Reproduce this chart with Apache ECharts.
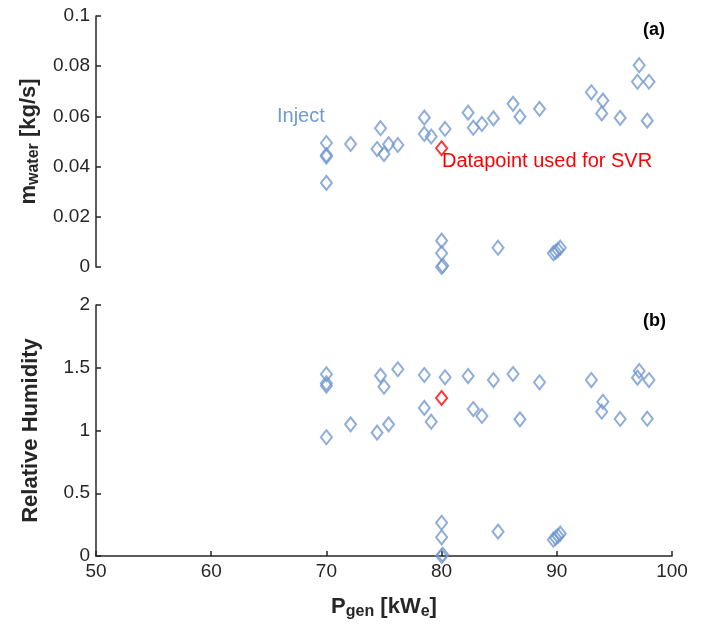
<!DOCTYPE html>
<html>
<head>
<meta charset="utf-8">
<script src="https://cdn.jsdelivr.net/npm/echarts@6/dist/echarts.min.js"></script>
<style>
  html, body { margin: 0; padding: 0; background: #fff; }
  #chart { width: 704px; height: 625px; }
</style>
</head>
<body>
<div id="chart"></div>
<script>
// generator power [kWe] for each test point
const pGen = [70, 70, 70, 70, 72.1, 74.7, 74.4, 75.0, 75.4, 76.2, 78.5, 78.5, 79.1, 80.3,
  82.3, 82.75, 83.5, 84.5, 86.2, 86.8, 88.5, 93.0, 94.0, 93.9, 95.5, 97.15, 97.0, 98.0, 97.85,
  80.0, 80.0, 80.0, 80.1, 84.9, 89.7, 89.9, 90.1, 90.3];
// injected water mass flow [kg/s]
const mWater = [0.0494, 0.0446, 0.044, 0.0335, 0.049, 0.0553, 0.047, 0.045, 0.0489, 0.0486, 0.0595, 0.053, 0.052, 0.055,
  0.0615, 0.0555, 0.057, 0.0592, 0.065, 0.0599, 0.063, 0.0696, 0.0663, 0.0612, 0.0594, 0.0804, 0.0738, 0.0738, 0.0583,
  0.0105, 0.0055, 0.0, 0.0005, 0.0077, 0.0055, 0.006, 0.0068, 0.0077];
// relative humidity
const relHum = [1.448, 1.376, 1.357, 0.946, 1.049, 1.437, 0.983, 1.349, 1.049, 1.488, 1.442, 1.18, 1.07, 1.424,
  1.434, 1.171, 1.116, 1.402, 1.45, 1.089, 1.384, 1.402, 1.229, 1.15, 1.092, 1.474, 1.421, 1.402, 1.094,
  0.265, 0.149, 0.0, 0.01, 0.194, 0.13, 0.145, 0.16, 0.178];
// datapoint used for SVR
const svrP = [80.0];
const svrM = [0.0473];
const svrRH = [1.259];

const blue = '#7299cf';
const dark = '#262626';
const font = 'Liberation Sans, Arial, sans-serif';

const zip = (a, b) => a.map((v, i) => [v, b[i]]);

const axisCommon = {
  axisLine: { show: true, lineStyle: { color: dark, width: 1.5 } },
  axisTick: { show: true, inside: true, length: 5, lineStyle: { color: dark, width: 1.5 } },
  axisLabel: { color: dark, fontSize: 19, fontFamily: font, margin: 6 },
  splitLine: { show: false }
};

const marker = (data, color, z) => ({
  type: 'scatter',
  data: data,
  symbol: 'diamond',
  symbolSize: [11, 14],
  itemStyle: { color: 'rgba(0,0,0,0)', borderColor: color, borderWidth: 2 },
  z: z
});

const myChart = echarts.init(document.getElementById('chart'));
myChart.setOption({
  animation: false,
  textStyle: { fontFamily: font },
  grid: [
    { left: 96, right: 32, top: 16, height: 251 },
    { left: 96, right: 32, top: 305, height: 251 }
  ],
  xAxis: [
    { gridIndex: 0, type: 'value', min: 50, max: 100, interval: 10, show: false },
    Object.assign({}, axisCommon, {
      gridIndex: 1, type: 'value', min: 50, max: 100, interval: 10,
      name: '{b|P}{s|gen}{b| [kW}{s|e}{b|]}',
      nameLocation: 'middle', nameGap: 38,
      nameTextStyle: {
        rich: {
          b: { fontSize: 22, fontWeight: 'bold', color: dark, fontFamily: font },
          s: { fontSize: 16, fontWeight: 'bold', color: dark, fontFamily: font, verticalAlign: 'bottom', padding: [10, 0, 0, 0] }
        }
      }
    })
  ],
  yAxis: [
    Object.assign({}, axisCommon, {
      gridIndex: 0, type: 'value', min: 0, max: 0.1, interval: 0.02,
      name: '{b|m}{s|water}{b| [kg/s]}',
      nameLocation: 'middle', nameGap: 54, nameRotate: 90,
      nameTextStyle: {
        rich: {
          b: { fontSize: 22, fontWeight: 'bold', color: dark, fontFamily: font },
          s: { fontSize: 16, fontWeight: 'bold', color: dark, fontFamily: font, verticalAlign: 'bottom', padding: [10, 0, 0, 0] }
        }
      }
    }),
    Object.assign({}, axisCommon, {
      gridIndex: 1, type: 'value', min: 0, max: 2, interval: 0.5,
      name: 'Relative Humidity',
      nameLocation: 'middle', nameGap: 54, nameRotate: 90,
      nameTextStyle: { fontSize: 22, fontWeight: 'bold', color: dark, fontFamily: font }
    })
  ],
  series: [
    Object.assign(marker(zip(pGen, mWater), blue, 2), { xAxisIndex: 0, yAxisIndex: 0 }),
    Object.assign(marker(zip(svrP, svrM), '#ff0000', 3), { xAxisIndex: 0, yAxisIndex: 0 }),
    Object.assign(marker(zip(pGen, relHum), blue, 2), { xAxisIndex: 1, yAxisIndex: 1 }),
    Object.assign(marker(zip(svrP, svrRH), '#ff0000', 3), { xAxisIndex: 1, yAxisIndex: 1 })
  ],
  graphic: [
    { type: 'text', left: 277, top: 106, style: { text: 'Inject', fill: blue, fontSize: 20, fontFamily: font } },
    { type: 'text', left: 442, top: 151, style: { text: 'Datapoint used for SVR', fill: '#ff0000', fontSize: 20, fontFamily: font } },
    { type: 'text', left: 643, top: 21, style: { text: '(a)', fill: '#000', fontSize: 18, fontWeight: 'bold', fontFamily: font } },
    { type: 'text', left: 643, top: 312, style: { text: '(b)', fill: '#000', fontSize: 18, fontWeight: 'bold', fontFamily: font } }
  ]
});

window.addEventListener('resize', function () {
  myChart.resize();
});
</script>
</body>
</html>
